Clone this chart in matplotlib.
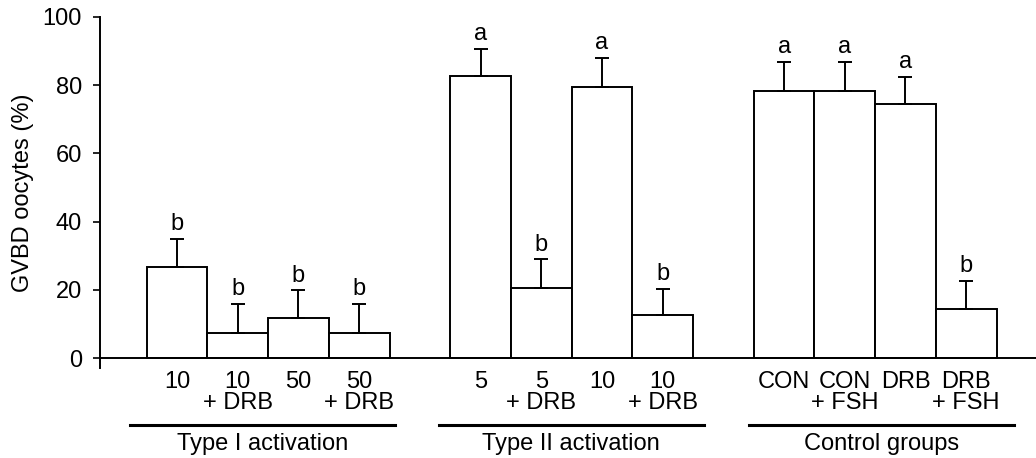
import matplotlib.pyplot as plt

plt.rcParams['font.family'] = ['Liberation Sans', 'DejaVu Sans']

# bar data
groups = ["Type I activation", "Type II activation", "Control groups"]
labels = ["10", "10\n+ DRB", "50", "50\n+ DRB",
          "5", "5\n+ DRB", "10", "10\n+ DRB",
          "CON", "CON\n+ FSH", "DRB", "DRB\n+ FSH"]
means = [26.6, 7.4, 11.6, 7.4,
         82.7, 20.5, 79.6, 12.7,
         78.4, 78.4, 74.6, 14.3]
errors = [8.4, 8.4, 8.2, 8.4,
          7.8, 8.4, 8.4, 7.6,
          8.3, 8.3, 7.8, 8.3]
letters = ["b", "b", "b", "b",
           "a", "b", "a", "b",
           "a", "a", "a", "b"]

pos = [1, 2, 3, 4, 6, 7, 8, 9, 11, 12, 13, 14]
group_lines = [(0.22, 4.59), (5.31, 9.68), (10.42, 14.79)]
fs = 17

fig = plt.figure(figsize=(10.36, 4.58), dpi=100)
ax = fig.add_axes([0.0965, 0.196, 0.9035, 0.767])

ax.bar(pos, means, width=1.0, color='white', edgecolor='black', linewidth=1.4,
       yerr=[[0] * len(means), errors],
       error_kw=dict(ecolor='black', elinewidth=1.4, capsize=4.7, capthick=1.4))

for x, m, e, l in zip(pos, means, errors, letters):
    ax.text(x, m + e + 2.6, l, ha='center', va='baseline', fontsize=fs)

ax.axhline(0, color='black', lw=1.4)
ax.set_xlim(-0.27, 15.15)
ax.set_ylim(-3, 100)
ax.set_yticks([0, 20, 40, 60, 80, 100])
ax.set_xticks(pos)
ax.set_xticklabels(labels, fontsize=fs)
for t in ax.get_xticklabels():
    t.set_linespacing(0.95)
ax.tick_params(axis='x', length=0, pad=2)
ax.tick_params(axis='y', length=5, width=1.2, labelsize=fs, pad=8)
ax.set_ylabel("GVBD oocytes (%)", fontsize=fs, labelpad=6)

for s in ['top', 'right', 'bottom']:
    ax.spines[s].set_visible(False)
ax.spines['left'].set_linewidth(1.4)

tr = ax.get_xaxis_transform()
for (x0, x1), g in zip(group_lines, groups):
    ax.plot([x0, x1], [-0.162, -0.162], color='black', lw=2.2, transform=tr, clip_on=False)
    ax.text((x0 + x1) / 2, -0.216, g, ha='center', va='center', fontsize=fs, transform=tr)

fig.savefig("out.png", dpi=100)
